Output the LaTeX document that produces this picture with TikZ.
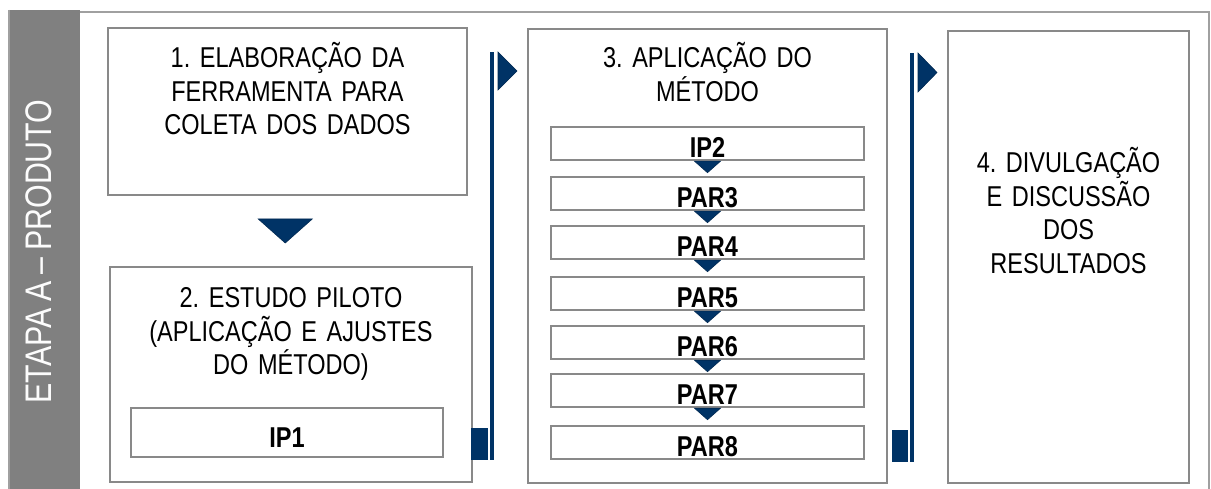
\documentclass[tikz,border=0pt]{standalone}
\usepackage{fontspec}
\setmainfont{Liberation Sans}[FakeStretch=0.82,WordSpace=0.82]
\usetikzlibrary{calc}
\definecolor{navy}{RGB}{0,51,102}
\definecolor{boxgray}{RGB}{137,137,137}
\definecolor{bandgray}{RGB}{128,128,128}
\definecolor{framegray}{RGB}{160,160,160}
\frenchspacing
\begin{document}
\begin{tikzpicture}[x=1pt,y=-1pt,
  box/.style={draw=boxgray, line width=2.4pt, fill=white, inner sep=0pt, rectangle},
  bigtxt/.style={font=\frenchspacing\fontsize{28.7}{33.5}\selectfont, anchor=base, align=center, inner sep=0pt},
  smalltxt/.style={font=\bfseries\fontsize{28.7}{33.5}\selectfont, anchor=base, inner sep=0pt},
  navyfill/.style={fill=navy, draw=navy!80!black, line width=0.6pt, line join=miter}]
\useasboundingbox (0,0) rectangle (1211,489);
\fill[white] (0,0) rectangle (1211,489);
% outer frame
\draw[framegray, line width=2pt] (9,12) -- (1209,12) -- (1209,489);
\draw[framegray, line width=1.5pt] (9,10) -- (9,489);
\fill[bandgray] (10,10) rectangle (80,489);
\node[rotate=90, font=\fontsize{37}{40}\selectfont, text=white!98!gray, inner sep=0pt] (etapa) at (38.5,251.5) {ETAPA A – PRODUTO};

% boxes
\node[box, minimum width=359pt, minimum height=167pt] (b1) at (287.5,111.5) {};
\node[box, minimum width=362pt, minimum height=215pt] (b2) at (291,374.5) {};
\node[box, minimum width=312pt, minimum height=49pt] (ip1) at (287,432.5) {};
\node[box, minimum width=359pt, minimum height=454pt] (b3) at (707.5,256) {};
\node[box, minimum width=241pt, minimum height=452pt] (b4) at (1068.5,257) {};

\foreach \n/\y in {1/143.5,2/193.5,3/242.5,4/293.5,5/342.5,6/390.5,7/442.5}{
  \node[box, minimum width=313pt, minimum height=33pt] (s\n) at (707.5,\y) {};
}

% texts
\node[bigtxt, text width=359pt] (t1) at (287.5,68) {1. ELABORAÇÃO DA\\FERRAMENTA PARA\\COLETA DOS DADOS};
\node[bigtxt, text width=362pt] (t2) at (291,308) {2. ESTUDO PILOTO\\(APLICAÇÃO E AJUSTES\\DO MÉTODO)};
\node[smalltxt] (tip1) at (287,447) {IP1};
\node[bigtxt, text width=359pt] (t3) at (707.5,68) {3. APLICAÇÃO DO\\MÉTODO};
\node[bigtxt, text width=241pt] (t4) at (1068.5,173) {4. DIVULGAÇÃO\\E DISCUSSÃO\\DOS\\RESULTADOS};

\foreach \n/\lab in {1/IP2,2/PAR3,3/PAR4,4/PAR5,5/PAR6,6/PAR7,7/PAR8}{
  \node[smalltxt] (l\n) at ($(s\n.south)+(0,-4)$) {\lab};
}

% small connectors between inner boxes
\foreach \n in {1,...,6}{
  \filldraw[navyfill] ($(s\n.south)+(-13,0)$) -- ($(s\n.south)+(13,0)$) -- ($(s\n.south)+(0,11.5)$) -- cycle;
}

% big down arrow between box 1 and box 2
\coordinate (d1) at ($(b1.south)!0.5!(b2.north)+(-4,0)$);
\filldraw[navyfill] ($(d1)+(-27,-12)$) -- ($(d1)+(27,-12)$) -- ($(d1)+(0,12)$) -- cycle;

% connector 2 -> 3
\fill[navy] (471,428) rectangle (488,460);
\fill[navy] (490,52) rectangle (494,460);
\filldraw[navyfill] (498,52) -- (517,71) -- (498,90) -- cycle;

% connector 3 -> 4
\fill[navy] (892,430) rectangle (908,462);
\fill[navy] (910,53) rectangle (914,462);
\filldraw[navyfill] (918,53) -- (937,72.5) -- (918,92) -- cycle;
\end{tikzpicture}
\end{document}
